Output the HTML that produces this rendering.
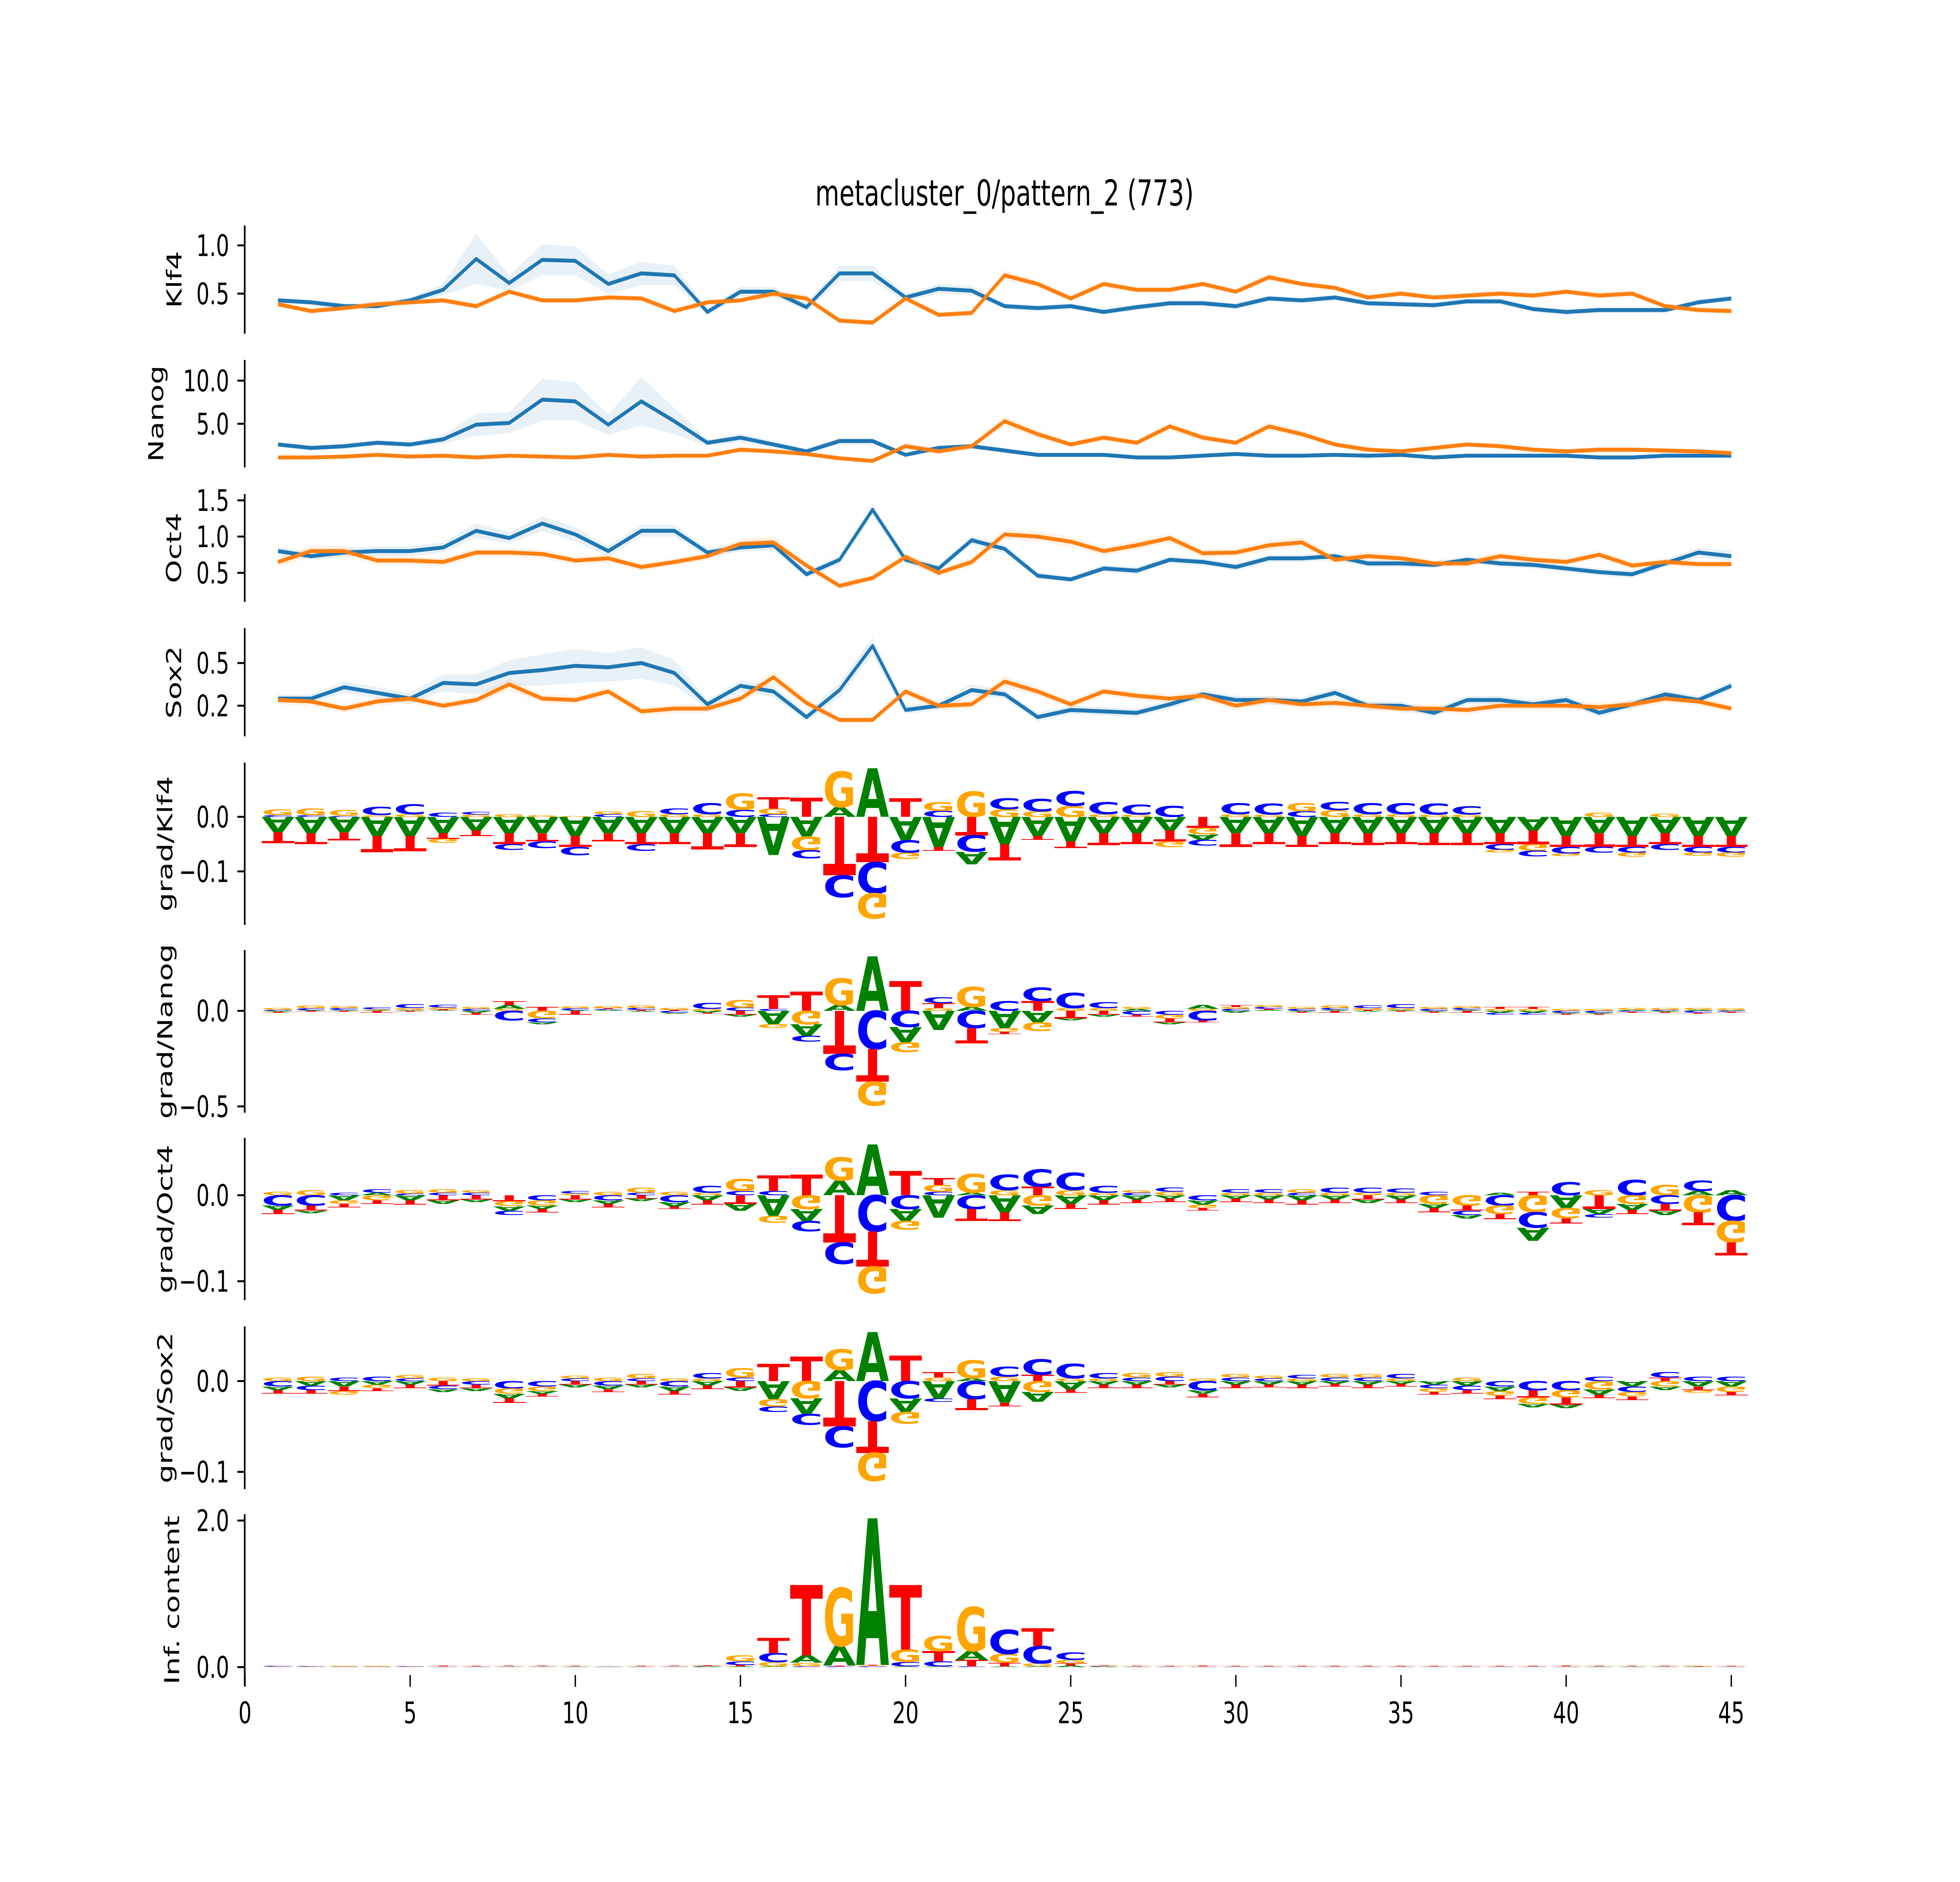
<!DOCTYPE html>
<html><head><meta charset="utf-8">
<style>
html,body{margin:0;padding:0;background:#fff;overflow:hidden;width:100%;height:100%;}
svg{display:block;width:100vw;height:100vh;}
text{font-family:"DejaVu Sans","Liberation Sans",sans-serif;}
</style></head>
<body>
<svg id="fig" xmlns="http://www.w3.org/2000/svg" viewBox="0 0 7200 4800" preserveAspectRatio="none">
<rect x="0" y="0" width="7200" height="4800" fill="#fff"/>
<text x="3690" y="524" font-size="91" text-anchor="middle">metacluster_0/pattern_2 (773)</text>
<g id="panels"></g>
</svg>
<script>
// ---- profile data (positions 1..45) ----
const positions = [1,2,3,4,5,6,7,8,9,10,11,12,13,14,15,16,17,18,19,20,21,22,23,24,25,26,27,28,29,30,31,32,33,34,35,36,37,38,39,40,41,42,43,44,45];
const klf4Blue = [0.43,0.41,0.37,0.37,0.43,0.54,0.86,0.61,0.85,0.84,0.60,0.71,0.69,0.31,0.52,0.52,0.36,0.71,0.71,0.46,0.55,0.53,0.37,0.35,0.37,0.31,0.36,0.40,0.40,0.37,0.45,0.43,0.46,0.40,0.39,0.38,0.42,0.42,0.34,0.31,0.33,0.33,0.33,0.41,0.45];
const klf4Orange = [0.39,0.32,0.35,0.39,0.41,0.43,0.37,0.52,0.43,0.43,0.46,0.45,0.32,0.41,0.43,0.50,0.45,0.22,0.20,0.45,0.28,0.30,0.69,0.60,0.45,0.60,0.54,0.54,0.60,0.52,0.67,0.60,0.56,0.46,0.50,0.46,0.48,0.50,0.48,0.52,0.48,0.50,0.37,0.33,0.32];
const klf4BlueErr = [0.03,0.03,0.03,0.03,0.03,0.06,0.26,0.08,0.16,0.15,0.10,0.12,0.10,0.04,0.05,0.05,0.04,0.08,0.08,0.04,0.05,0.05,0.03,0.03,0.03,0.03,0.03,0.03,0.03,0.03,0.03,0.03,0.03,0.03,0.03,0.03,0.03,0.03,0.03,0.03,0.03,0.03,0.03,0.03,0.03];
const klf4OrangeErr = [0.03,0.03,0.03,0.03,0.03,0.03,0.03,0.03,0.03,0.03,0.03,0.03,0.03,0.03,0.03,0.04,0.04,0.03,0.03,0.03,0.03,0.03,0.05,0.04,0.03,0.04,0.03,0.03,0.03,0.03,0.04,0.03,0.03,0.03,0.03,0.03,0.03,0.03,0.03,0.03,0.03,0.03,0.03,0.03,0.03];
const nanogBlue = [2.6,2.2,2.4,2.8,2.6,3.2,4.9,5.1,7.8,7.6,4.9,7.6,5.3,2.8,3.4,2.6,1.8,3.0,3.0,1.4,2.2,2.4,1.9,1.4,1.4,1.4,1.1,1.1,1.3,1.5,1.3,1.3,1.4,1.3,1.4,1.1,1.3,1.3,1.3,1.3,1.1,1.1,1.3,1.3,1.3];
const nanogOrange = [1.1,1.1,1.2,1.4,1.2,1.3,1.1,1.3,1.2,1.1,1.4,1.2,1.3,1.3,2.0,1.8,1.5,1.0,0.7,2.4,1.8,2.4,5.3,3.8,2.6,3.4,2.8,4.7,3.4,2.8,4.7,3.8,2.6,2.0,1.8,2.2,2.6,2.4,2.0,1.8,2.0,2.0,1.9,1.8,1.6];
const nanogBlueErr = [0.3,0.3,0.3,0.3,0.3,0.5,1.3,1.2,2.4,2.2,1.2,2.8,1.5,0.4,0.5,0.4,0.3,0.4,0.4,0.2,0.3,0.3,0.3,0.2,0.2,0.2,0.2,0.2,0.2,0.2,0.2,0.2,0.2,0.2,0.2,0.2,0.2,0.2,0.2,0.2,0.2,0.2,0.2,0.2,0.2];
const nanogOrangeErr = [0.2,0.2,0.2,0.2,0.2,0.2,0.2,0.2,0.2,0.2,0.2,0.2,0.2,0.2,0.3,0.3,0.2,0.2,0.2,0.4,0.3,0.3,0.6,0.5,0.3,0.4,0.3,0.5,0.4,0.3,0.5,0.4,0.3,0.3,0.3,0.3,0.3,0.3,0.3,0.3,0.3,0.3,0.3,0.3,0.3];
const oct4Blue = [0.80,0.73,0.78,0.80,0.80,0.85,1.08,0.98,1.18,1.03,0.80,1.08,1.08,0.78,0.85,0.88,0.48,0.68,1.37,0.68,0.56,0.95,0.83,0.46,0.41,0.56,0.53,0.68,0.65,0.58,0.70,0.70,0.73,0.63,0.63,0.61,0.68,0.63,0.61,0.56,0.51,0.48,0.63,0.78,0.73];
const oct4Orange = [0.65,0.80,0.80,0.67,0.67,0.65,0.78,0.78,0.76,0.67,0.70,0.58,0.65,0.73,0.90,0.92,0.60,0.32,0.43,0.72,0.50,0.65,1.03,1.00,0.93,0.80,0.88,0.98,0.77,0.78,0.88,0.92,0.68,0.73,0.70,0.63,0.63,0.73,0.68,0.65,0.75,0.60,0.65,0.62,0.62];
const oct4BlueErr = [0.06,0.05,0.06,0.07,0.07,0.07,0.10,0.08,0.10,0.10,0.07,0.08,0.08,0.06,0.06,0.07,0.05,0.06,0.08,0.06,0.05,0.06,0.06,0.04,0.04,0.05,0.05,0.05,0.05,0.05,0.05,0.05,0.05,0.05,0.05,0.05,0.05,0.05,0.05,0.05,0.05,0.05,0.05,0.07,0.07];
const oct4OrangeErr = [0.07,0.08,0.07,0.06,0.06,0.06,0.06,0.06,0.06,0.06,0.06,0.05,0.05,0.06,0.07,0.08,0.06,0.04,0.05,0.06,0.05,0.06,0.07,0.07,0.07,0.06,0.06,0.07,0.06,0.06,0.07,0.07,0.06,0.06,0.06,0.05,0.05,0.06,0.05,0.05,0.06,0.05,0.05,0.05,0.05];
const sox2Blue = [0.25,0.25,0.33,0.29,0.25,0.36,0.35,0.43,0.45,0.48,0.47,0.50,0.43,0.21,0.34,0.30,0.12,0.31,0.62,0.17,0.20,0.31,0.28,0.12,0.17,0.16,0.15,0.21,0.28,0.24,0.24,0.23,0.29,0.20,0.20,0.15,0.24,0.24,0.21,0.24,0.15,0.21,0.28,0.24,0.34];
const sox2Orange = [0.24,0.23,0.18,0.23,0.25,0.20,0.24,0.35,0.25,0.24,0.30,0.16,0.18,0.18,0.25,0.40,0.22,0.10,0.10,0.30,0.20,0.21,0.37,0.30,0.21,0.30,0.27,0.25,0.27,0.20,0.24,0.21,0.22,0.20,0.18,0.18,0.17,0.20,0.20,0.20,0.19,0.21,0.25,0.23,0.18];
const sox2BlueErr = [0.03,0.03,0.04,0.04,0.04,0.06,0.07,0.09,0.11,0.12,0.10,0.11,0.09,0.03,0.04,0.04,0.03,0.05,0.06,0.03,0.03,0.04,0.03,0.03,0.03,0.03,0.03,0.03,0.03,0.03,0.03,0.03,0.03,0.03,0.03,0.03,0.03,0.03,0.03,0.03,0.03,0.03,0.03,0.03,0.03];
const sox2OrangeErr = [0.03,0.03,0.03,0.03,0.03,0.03,0.03,0.04,0.03,0.03,0.03,0.03,0.03,0.03,0.03,0.04,0.03,0.02,0.02,0.03,0.03,0.03,0.04,0.03,0.03,0.03,0.03,0.03,0.03,0.03,0.03,0.03,0.03,0.03,0.03,0.03,0.03,0.03,0.03,0.03,0.03,0.03,0.03,0.03,0.03];

// ---- logo data (per position, letter heights; negative = below 0) ----
const gKlf4A = [-0.028,-0.03,-0.028,-0.035,-0.035,-0.03,-0.025,-0.03,-0.03,-0.035,-0.03,-0.03,-0.03,-0.03,-0.03,-0.07,-0.036,0.018,0.089,-0.043,-0.055,-0.023,-0.05,-0.035,-0.045,-0.03,-0.03,-0.025,-0.01,-0.03,-0.03,-0.035,-0.03,-0.03,-0.03,-0.03,-0.03,-0.03,-0.025,-0.035,-0.03,-0.035,-0.03,-0.035,-0.035];
const gKlf4C = [0.003,0.003,0.002,0.015,0.018,0.008,0.005,-0.01,-0.012,-0.015,0.005,-0.012,0.01,0.02,0.013,0.005,-0.015,-0.04,-0.057,-0.023,0.011,-0.03,0.02,0.023,0.027,0.022,0.018,0.02,-0.01,0.02,0.02,0.01,0.015,0.02,0.02,0.02,0.015,-0.01,-0.01,-0.012,-0.01,-0.01,-0.01,-0.01,-0.01];
const gKlf4G = [0.01,0.012,0.01,0.003,0.005,-0.008,0.004,0.005,0.003,0.002,0.005,0.01,0.005,0.005,0.03,0.01,-0.025,0.065,-0.046,-0.011,0.016,0.046,0.014,0.01,0.02,0.005,0.004,-0.01,-0.012,0.005,0.004,0.015,0.012,0.005,0.005,0.004,0.004,-0.005,-0.012,-0.005,0.008,-0.008,0.006,-0.006,-0.008];
const gKlf4T = [-0.02,-0.02,-0.015,-0.03,-0.028,-0.01,-0.01,-0.02,-0.015,-0.02,-0.015,-0.02,-0.02,-0.03,-0.025,0.021,0.035,-0.107,-0.083,0.034,-0.007,-0.034,-0.03,-0.007,-0.012,-0.022,-0.02,-0.02,-0.02,-0.025,-0.02,-0.02,-0.02,-0.022,-0.02,-0.022,-0.022,-0.02,-0.025,-0.02,-0.025,-0.02,-0.02,-0.02,-0.02];
const gNanogA = [-0.005,0.003,0.004,0.003,0.004,0.003,-0.01,0.02,-0.01,0.003,0.005,-0.005,-0.005,-0.01,-0.01,-0.07,-0.06,0.03,0.285,-0.08,-0.1,0.02,-0.09,-0.06,-0.01,-0.01,0.01,-0.01,0.02,-0.01,0.005,-0.005,0.005,-0.005,0.005,-0.005,0.005,-0.01,-0.01,-0.005,-0.005,0.005,-0.005,0.005,0.003];
const gNanogC = [0.005,0.01,0.01,0.01,0.02,0.015,0.01,-0.05,-0.02,0.01,0.005,0.01,-0.01,0.03,0.017,0.01,-0.03,-0.085,-0.2,-0.085,0.03,-0.09,0.05,0.07,0.08,0.03,-0.02,-0.02,-0.05,0.01,0.01,0.01,0.01,0.015,0.02,0.01,0.01,-0.01,-0.01,-0.01,-0.01,-0.005,0.005,-0.01,-0.005];
const gNanogG = [0.01,0.015,0.01,0.005,0.01,0.01,0.01,0.01,-0.04,0.01,0.01,0.015,0.01,0.01,0.04,-0.02,-0.07,0.14,-0.125,-0.05,0.015,0.105,-0.02,-0.045,0.015,0.015,0.01,-0.02,0.01,0.01,0.01,0.01,0.015,0.01,0.01,0.01,0.01,0.01,0.01,0.01,0.01,0.01,0.01,0.01,0.01];
const gNanogT = [-0.005,-0.005,-0.005,-0.01,-0.005,0.005,-0.01,0.02,0.02,-0.02,0.005,0.005,0.005,-0.005,-0.02,0.07,0.1,-0.225,-0.17,0.155,0.025,-0.08,-0.012,0.05,-0.04,-0.02,-0.01,-0.02,-0.01,0.01,0.005,-0.005,-0.01,0.005,-0.005,-0.005,-0.01,0.01,0.01,-0.005,-0.005,-0.005,-0.005,-0.005,-0.005];
const gOct4A = [-0.005,-0.003,-0.006,0.003,-0.006,-0.004,-0.003,-0.005,-0.004,-0.003,-0.004,-0.003,-0.005,-0.006,-0.008,-0.024,-0.014,0.017,0.059,-0.014,-0.026,0.003,-0.02,-0.01,-0.01,-0.006,-0.005,-0.004,-0.005,-0.004,-0.005,-0.006,-0.005,-0.004,-0.005,-0.005,-0.004,0.003,-0.015,-0.015,-0.006,-0.007,-0.005,0.005,0.006];
const gOct4C = [-0.012,-0.012,0.003,0.004,0.002,0.003,0.003,-0.005,-0.006,0.003,-0.006,0.003,-0.008,0.008,0.005,0.005,-0.012,-0.025,-0.042,-0.016,0.004,-0.016,0.018,0.02,0.02,0.008,0.003,0.005,-0.006,0.004,0.004,0.003,0.006,0.006,0.005,0.004,-0.005,-0.012,-0.018,0.015,-0.004,0.018,-0.01,0.012,-0.03];
const gOct4G = [0.004,0.006,-0.004,-0.006,0.004,0.004,0.003,-0.006,-0.006,0.002,0.004,0.006,0.004,0.003,0.014,-0.008,-0.016,0.027,-0.031,-0.01,0.008,0.022,0.006,-0.012,0.006,0.003,0.003,0.004,-0.004,0.003,0.003,0.004,0.003,0.003,0.003,-0.01,-0.012,-0.01,-0.02,-0.012,0.006,-0.01,0.012,-0.02,-0.025];
const gOct4T = [-0.005,-0.006,-0.004,-0.004,-0.005,-0.006,-0.005,-0.007,-0.004,-0.005,-0.004,-0.004,-0.003,-0.005,-0.01,0.018,0.024,-0.055,-0.041,0.028,0.008,-0.014,-0.01,0.01,-0.006,-0.005,-0.004,-0.004,-0.003,-0.004,-0.004,-0.005,-0.004,-0.005,-0.004,-0.005,-0.006,-0.006,0.004,-0.006,-0.016,-0.005,-0.008,-0.015,-0.015];
const gSox2A = [-0.004,-0.005,-0.006,-0.004,-0.004,-0.003,-0.003,-0.005,-0.003,-0.003,-0.004,-0.003,-0.005,-0.005,-0.004,-0.02,-0.017,0.012,0.054,-0.015,-0.019,0.003,-0.024,-0.011,-0.009,-0.004,-0.004,-0.003,-0.004,-0.004,-0.004,-0.004,-0.003,-0.004,-0.003,-0.004,-0.005,-0.005,-0.004,-0.004,-0.006,-0.006,-0.004,-0.006,-0.006];
const gSox2C = [-0.006,-0.005,0.004,0.005,0.003,-0.004,-0.004,-0.008,-0.006,0.003,-0.005,0.003,-0.006,0.006,0.004,-0.006,-0.012,-0.023,-0.044,-0.019,-0.004,-0.02,0.011,0.017,0.016,0.006,0.004,0.005,-0.01,0.004,0.003,0.004,0.004,0.004,0.005,-0.004,-0.005,-0.006,-0.01,-0.01,0.005,-0.006,0.006,0.005,0.005];
const gSox2G = [0.004,0.005,-0.004,-0.004,0.004,0.004,0.003,-0.006,-0.005,0.003,0.004,0.005,0.003,0.003,0.01,-0.008,-0.019,0.023,-0.031,-0.013,0.004,0.02,0.005,-0.012,0.003,0.003,0.005,0.005,0.003,0.004,0.003,0.003,0.004,0.004,0.003,-0.004,0.004,-0.005,-0.007,-0.008,-0.009,-0.005,-0.006,-0.003,-0.006];
const gSox2T = [-0.004,-0.004,-0.005,-0.003,-0.004,-0.005,-0.004,-0.005,-0.003,-0.004,-0.003,-0.004,-0.004,-0.004,-0.007,0.019,0.027,-0.05,-0.035,0.028,0.006,-0.012,-0.004,0.007,-0.004,-0.004,-0.004,-0.004,-0.004,-0.004,-0.003,-0.004,-0.003,-0.004,-0.003,-0.003,-0.004,-0.004,-0.008,-0.008,-0.004,-0.004,0.004,-0.004,-0.004];
const icA = [0.002,0.002,0.002,0.002,0.002,0.003,0.003,0.004,0.004,0.003,0.003,0.003,0.004,0.005,0.01,0.01,0.1,0.27,2.0,0.01,0.01,0.12,0.01,0.01,0.02,0.005,0.003,0.003,0.003,0.003,0.003,0.003,0.003,0.003,0.003,0.003,0.003,0.003,0.003,0.003,0.003,0.003,0.003,0.003,0.003];
const icC = [0.01,0.008,0.003,0.003,0.008,0.003,0.003,0.004,0.004,0.004,0.003,0.003,0.004,0.005,0.05,0.12,0.01,0.01,0.01,0.06,0.07,0.01,0.33,0.24,0.1,0.005,0.003,0.003,0.003,0.003,0.003,0.003,0.003,0.003,0.003,0.003,0.003,0.003,0.003,0.003,0.003,0.003,0.003,0.003,0.003];
const icG = [0.003,0.003,0.01,0.01,0.004,0.004,0.004,0.004,0.004,0.004,0.004,0.004,0.004,0.005,0.08,0.06,0.05,0.79,0.01,0.17,0.21,0.6,0.12,0.04,0.05,0.005,0.004,0.004,0.004,0.004,0.004,0.004,0.004,0.004,0.004,0.004,0.004,0.004,0.004,0.004,0.004,0.004,0.004,0.01,0.004];
const icT = [0.003,0.003,0.003,0.003,0.003,0.01,0.008,0.005,0.005,0.005,0.004,0.005,0.005,0.01,0.02,0.21,0.96,0.01,0.01,0.88,0.14,0.09,0.05,0.24,0.03,0.008,0.005,0.005,0.01,0.005,0.005,0.008,0.005,0.005,0.008,0.008,0.005,0.005,0.005,0.01,0.005,0.005,0.005,0.005,0.008];

const xTicks = [0,5,10,15,20,25,30,35,40,45];

const NS = "http://www.w3.org/2000/svg";
const root = document.getElementById('panels');
const X0 = 900, XU = 121.33;
function xs(v){ return X0 + v*XU; }
function mk(tag, attrs, parent){
  const e = document.createElementNS(NS, tag);
  for (const k in attrs) e.setAttribute(k, attrs[k]);
  (parent||root).appendChild(e);
  return e;
}
function fmt(v, d){ const s = Math.abs(v).toFixed(d); return (v < 0 ? "\u2212" : "") + s; }

const panels = [
  {key:'klf4', label:'Klf4', lx:667, top:575, bot:851, vmax:1.207, vmin:0.085, ticks:[0.5,1.0], dec:1, type:'line', blue:klf4Blue, orange:klf4Orange, be:klf4BlueErr, oe:klf4OrangeErr},
  {key:'nanog', label:'Nanog', lx:600, top:918, bot:1192, vmax:12.4, vmin:-0.05, ticks:[5,10], dec:1, type:'line', blue:nanogBlue, orange:nanogOrange, be:nanogBlueErr, oe:nanogOrangeErr},
  {key:'oct4', label:'Oct4', lx:665, top:1260, bot:1535, vmax:1.587, vmin:0.1, ticks:[0.5,1.0,1.5], dec:1, type:'line', blue:oct4Blue, orange:oct4Orange, be:oct4BlueErr, oe:oct4OrangeErr},
  {key:'sox2', label:'Sox2', lx:665, top:1602, bot:1878, vmax:0.745, vmin:-0.015, ticks:[0.2,0.5], dec:1, type:'line', blue:sox2Blue, orange:sox2Orange, be:sox2BlueErr, oe:sox2OrangeErr},
  {key:'grad-klf4', label:'grad/Klf4', lx:633, top:1945, bot:2359, vmax:0.0993, vmin:-0.198, ticks:[-0.1,0], dec:1, type:'logo', A:gKlf4A, C:gKlf4C, G:gKlf4G, T:gKlf4T},
  {key:'grad-nanog', label:'grad/Nanog', lx:633, top:2423, bot:2838, vmax:0.318, vmin:-0.533, ticks:[-0.5,0], dec:1, type:'logo', A:gNanogA, C:gNanogC, G:gNanogG, T:gNanogT},
  {key:'grad-oct4', label:'grad/Oct4', lx:633, top:2902, bot:3316, vmax:0.0667, vmin:-0.122, ticks:[-0.1,0], dec:1, type:'logo', A:gOct4A, C:gOct4C, G:gOct4G, T:gOct4T},
  {key:'grad-sox2', label:'grad/Sox2', lx:633, top:3383, bot:3798, vmax:0.0602, vmin:-0.119, ticks:[-0.1,0], dec:1, type:'logo', A:gSox2A, C:gSox2C, G:gSox2G, T:gSox2T},
  {key:'inf-content', label:'Inf. content', lx:658, top:3862, bot:4300, vmax:2.086, vmin:-0.257, ticks:[0,2], dec:1, type:'logo', A:icA, C:icC, G:icG, T:icT}
];

const COLORS = {A:'#008000', C:'#0000ff', G:'#ffa500', T:'#ff0000'};
const ADV = {A:0.774, C:0.734, G:0.821, T:0.682};
const CAP = 0.729;

panels.forEach(p => {
  const g = mk('g', {});
  
  
  const ys = v => p.top + (p.vmax - v) / (p.vmax - p.vmin) * (p.bot - p.top);

  const sp = mk('line', {x1:899, x2:899, y1:p.top, y2:p.bot, stroke:'#000', 'stroke-width':6}, g);
  
  
  p.ticks.forEach(t => {
    const y = ys(t);
    const tk = mk('line', {x1:872, x2:899, y1:y, y2:y, stroke:'#000', 'stroke-width':5}, g);
    
    
    const tl = mk('text', {x:842, y:y+27, 'font-size':76, 'text-anchor':'end'}, g);
    tl.textContent = fmt(t, p.dec);
    
    
  });
  const cy = (p.top + p.bot) / 2;
  const yl = mk('text', {x:p.lx, y:cy, 'font-size':76, 'text-anchor':'middle', transform:'rotate(-90 '+p.lx+' '+cy+')'}, g);
  yl.textContent = p.label;
  
  

  if (p.type === 'line') {
    [['blue', p.blue, p.be, '#1f77b4'], ['orange', p.orange, p.oe, '#ff7f0e']].forEach(([nm, vals, err, col]) => {
      let up = '', dn = '';
      positions.forEach((x, i) => { up += (i ? 'L' : 'M') + xs(x).toFixed(1) + ',' + ys(vals[i] + err[i]).toFixed(1); });
      for (let i = positions.length - 1; i >= 0; i--) dn += 'L' + xs(positions[i]).toFixed(1) + ',' + ys(vals[i] - err[i]).toFixed(1);
      const band = mk('path', {d: up + dn + 'Z', fill: col, 'fill-opacity': 0.1, stroke: 'none'}, g);
      
      
    });
    [['blue', p.blue, '#1f77b4'], ['orange', p.orange, '#ff7f0e']].forEach(([nm, vals, col]) => {
      let d = '';
      positions.forEach((x, i) => { d += (i ? 'L' : 'M') + xs(x).toFixed(1) + ',' + ys(vals[i]).toFixed(1); });
      const ln = mk('path', {d: d, fill: 'none', stroke: col, 'stroke-width': 10, 'stroke-linejoin': 'round'}, g);
      
      
    });
  } else {
    const y0 = ys(0);
    positions.forEach((pos, i) => {
      const letters = ['A','C','G','T'].map(L => ({L: L, v: p[L][i]}));
      const pos_ = letters.filter(o => o.v > 0).sort((a, b) => a.v - b.v);
      const neg_ = letters.filter(o => o.v < 0).sort((a, b) => a.v - b.v);
      const xl = xs(pos - 0.5);
      let base = y0;
      pos_.forEach(o => {
        const h = y0 - ys(o.v);
        const sx = XU / (ADV[o.L] * 100), sy = h / (CAP * 100);
        const t = mk('text', {x:0, y:0, 'font-size':100, 'font-weight':'bold', fill:COLORS[o.L],
          transform:'translate(' + xl.toFixed(1) + ',' + base.toFixed(1) + ') scale(' + sx.toFixed(4) + ',' + sy.toFixed(4) + ')'}, g);
        t.textContent = o.L;
        
        
        base -= h;
      });
      base = y0;
      neg_.forEach(o => {
        const h = ys(o.v) - y0;
        const sx = XU / (ADV[o.L] * 100), sy = h / (CAP * 100);
        const t = mk('text', {x:0, y:0, 'font-size':100, 'font-weight':'bold', fill:COLORS[o.L],
          transform:'translate(' + xl.toFixed(1) + ',' + base.toFixed(1) + ') scale(' + sx.toFixed(4) + ',' + (-sy).toFixed(4) + ')'}, g);
        t.textContent = o.L;
        
        
        base += h;
      });
    });
  }
});

const xg = mk('g', {});


xTicks.forEach(t => {
  const x = xs(t);
  const tk = mk('line', {x1:x, x2:x, y1:4272, y2:4302, stroke:'#000', 'stroke-width':5}, xg);
  
  
  const tl = mk('text', {x:x, y:4395, 'font-size':76, 'text-anchor':'middle'}, xg);
  tl.textContent = String(t);
  
  
});
</script>
</body></html>
